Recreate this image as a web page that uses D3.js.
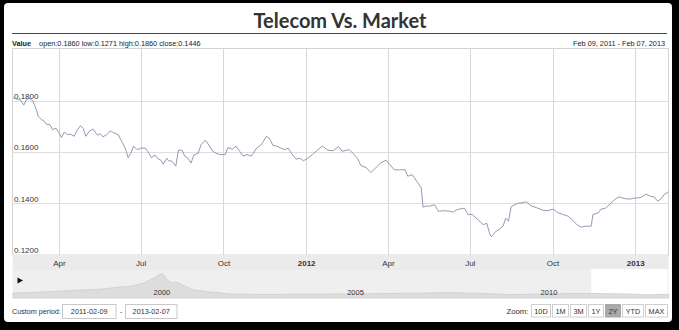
<!DOCTYPE html>
<html>
<head>
<meta charset="utf-8">
<script src="https://cdn.jsdelivr.net/npm/d3@7"></script>
<style>
  html, body { margin: 0; padding: 0; background: #000; }
  svg { display: block; }
</style>
</head>
<body>
<svg id="chart" width="679" height="330"></svg>
<script>
// ---- data -------------------------------------------------------------
const titleText = "Telecom Vs. Market";

const dates = [
  "2011-02-09","2011-02-12","2011-02-17","2011-02-21","2011-02-24","2011-02-27","2011-03-03",
  "2011-03-07","2011-03-09","2011-03-13","2011-03-15","2011-03-18","2011-03-22","2011-03-25","2011-03-29",
  "2011-04-01","2011-04-04","2011-04-07","2011-04-11","2011-04-14","2011-04-18","2011-04-21","2011-04-25",
  "2011-04-28","2011-05-01","2011-05-05","2011-05-09","2011-05-14","2011-05-17","2011-05-20","2011-05-24",
  "2011-05-28","2011-06-01","2011-06-06","2011-06-10","2011-06-13","2011-06-15","2011-06-17","2011-06-20",
  "2011-06-23","2011-06-27","2011-07-01","2011-07-06","2011-07-09","2011-07-13","2011-07-17","2011-07-20",
  "2011-07-23","2011-07-26","2011-07-30","2011-08-01","2011-08-05","2011-08-09","2011-08-12","2011-08-16",
  "2011-08-19","2011-08-22","2011-08-26","2011-08-29","2011-09-03","2011-09-06","2011-09-11","2011-09-15",
  "2011-09-19","2011-09-24","2011-09-28","2011-10-03","2011-10-06","2011-10-11","2011-10-15","2011-10-19",
  "2011-10-23","2011-10-27","2011-11-01","2011-11-07","2011-11-12","2011-11-18","2011-11-22","2011-11-25",
  "2011-11-29","2011-12-04","2011-12-08","2011-12-12","2011-12-16","2011-12-21","2011-12-25","2011-12-29",
  "2012-01-03","2012-01-08","2012-01-14","2012-01-19","2012-01-25","2012-01-31","2012-02-06","2012-02-10",
  "2012-02-15","2012-02-18","2012-02-22","2012-02-27","2012-03-02","2012-03-08","2012-03-13","2012-03-19",
  "2012-03-24","2012-03-30","2012-04-03","2012-04-08","2012-04-14","2012-04-20","2012-04-23","2012-04-28",
  "2012-05-04","2012-05-08","2012-05-10","2012-05-14","2012-05-18","2012-05-23","2012-05-27","2012-06-02",
  "2012-06-09","2012-06-12","2012-06-17","2012-06-22","2012-06-25","2012-06-29","2012-07-04","2012-07-10",
  "2012-07-16","2012-07-20","2012-07-23","2012-07-25","2012-07-30","2012-08-03","2012-08-07","2012-08-10",
  "2012-08-13","2012-08-16","2012-08-20","2012-08-24","2012-08-29","2012-09-02","2012-09-07","2012-09-13",
  "2012-09-20","2012-09-25","2012-10-02","2012-10-07","2012-10-13","2012-10-18","2012-10-23","2012-10-28",
  "2012-11-02","2012-11-07","2012-11-13","2012-11-15","2012-11-21","2012-11-24","2012-11-29","2012-12-05",
  "2012-12-09","2012-12-14","2012-12-20","2012-12-26","2012-12-31","2013-01-07","2013-01-13","2013-01-18",
  "2013-01-22","2013-01-26","2013-01-30","2013-02-02","2013-02-07"
];

const values = [
  0.1811,0.1807,0.1803,0.1782,0.1803,0.1809,0.1799,
  0.1764,0.1739,0.1725,0.1722,0.1708,0.1706,0.1687,0.1692,
  0.1675,0.1656,0.1677,0.1667,0.1669,0.1661,0.1683,0.1702,
  0.1692,0.1661,0.1681,0.1689,0.1665,0.1671,0.1659,0.1667,
  0.1681,0.1675,0.1667,0.1640,0.1621,0.1603,0.1578,0.1595,
  0.1623,0.1609,0.1615,0.1615,0.1601,0.1578,0.1588,0.1574,
  0.1570,0.1553,0.1576,0.1566,0.1564,0.1545,0.1607,0.1607,
  0.1584,0.1578,0.1557,0.1588,0.1595,0.1628,0.1646,0.1626,
  0.1603,0.1593,0.1590,0.1590,0.1617,0.1611,0.1623,0.1603,
  0.1584,0.1590,0.1584,0.1615,0.1628,0.1661,0.1648,0.1626,
  0.1623,0.1615,0.1609,0.1615,0.1593,0.1572,0.1576,0.1566,
  0.1576,0.1590,0.1609,0.1623,0.1607,0.1605,0.1621,0.1603,
  0.1607,0.1609,0.1595,0.1576,0.1547,0.1539,0.1520,0.1541,
  0.1558,0.1568,0.1551,0.1531,0.1531,0.1531,0.1506,0.1512,
  0.1481,0.1461,0.1386,0.1390,0.1390,0.1395,0.1370,0.1372,
  0.1370,0.1366,0.1376,0.1380,0.1382,0.1358,0.1357,0.1337,
  0.1318,0.1323,0.1283,0.1271,0.1292,0.1300,0.1312,0.1343,
  0.1331,0.1388,0.1395,0.1401,0.1403,0.1407,0.1391,0.1384,
  0.1374,0.1372,0.1378,0.1364,0.1357,0.1351,0.1337,0.1318,
  0.1308,0.1312,0.1312,0.1357,0.1364,0.1378,0.1382,0.1401,
  0.1415,0.1426,0.1419,0.1417,0.1421,0.1423,0.1436,0.1428,
  0.1426,0.1409,0.1419,0.1434,0.1446
];

// period summary shown in the header
const periodOpen = 0.1860;
const periodLow = 0.1271;
const periodHigh = 0.1860;
const periodClose = 0.1446;

// long-range history shown in the scrollbar
const navDates = [
  "1996-03-01","1997-02-15","1998-01-01","1998-06-01","1998-11-10","1999-04-08","1999-07-12","1999-10-15",
  "2000-01-07","2000-02-25","2000-04-12","2000-05-12","2000-07-15","2000-10-26","2001-03-10","2001-11-10",
  "2002-09-28","2003-08-07","2004-06-14","2005-07-01","2006-07-01","2007-07-01","2008-04-15","2009-01-15",
  "2010-01-01","2011-02-09","2012-01-01","2012-07-25","2013-02-07"
];
const navValues = [
  0.19,0.25,0.32,0.35,0.42,0.48,0.58,0.78,
  0.98,0.71,0.58,0.65,0.52,0.32,0.25,0.15,
  0.14,0.15,0.16,0.17,0.19,0.21,0.18,0.13,
  0.17,0.18,0.16,0.13,0.145
];

const yTicks = [0.12, 0.14, 0.16, 0.18];
const zoomButtons = ["10D", "1M", "3M", "1Y", "2Y", "YTD", "MAX"];
const activeZoom = "2Y";

// ---- setup ------------------------------------------------------------
const FONT = "'Liberation Sans', Arial, sans-serif";
const svg = d3.select("#chart");
const parse = d3.timeParse("%Y-%m-%d");
const series = dates.map((d, i) => ({ date: parse(d), value: values[i] }));
const navSeries = navDates.map((d, i) => ({ date: parse(d), value: navValues[i] }));

const P = { left: 12.5, right: 668.5, top: 48.5, bottom: 255 };

const x = d3.scaleTime()
  .domain(d3.extent(series, d => d.date))
  .range([13, 668.5]);
const y = d3.scaleLinear().domain([0.12, 0.20]).range([255, 49]);

// white panel
svg.append("rect")
  .attr("x", 4).attr("y", 3).attr("width", 668).attr("height", 319)
  .attr("rx", 4).attr("fill", "#fff");

// title
svg.append("text")
  .attr("x", 340).attr("y", 28)
  .attr("text-anchor", "middle")
  .attr("font-family", "Lato, sans-serif")
  .attr("font-weight", 700)
  .attr("font-size", 20)
  .attr("fill", "#333")
  .text(titleText);

svg.append("line")
  .attr("x1", 12).attr("x2", 667).attr("y1", 33.5).attr("y2", 33.5)
  .attr("stroke", "#444").attr("stroke-width", 1);

// value summary
const fmt4 = d3.format(".4f");
const info = svg.append("text")
  .attr("x", 12).attr("y", 45.5)
  .attr("font-family", FONT).attr("font-size", 7.3).attr("fill", "#222");
info.append("tspan").attr("font-weight", 700).text("Value");
info.append("tspan").attr("dx", 8)
  .text(`open:${fmt4(periodOpen)} low:${fmt4(periodLow)} high:${fmt4(periodHigh)} close:${fmt4(periodClose)}`);

const fmtRange = d3.timeFormat("%b %d, %Y");
svg.append("text")
  .attr("x", 665).attr("y", 45.5).attr("text-anchor", "end")
  .attr("font-family", FONT).attr("font-size", 7.3).attr("fill", "#222")
  .text(`${fmtRange(series[0].date)} - ${fmtRange(series[series.length - 1].date)}`);

// plot frame
svg.append("rect")
  .attr("x", P.left).attr("y", P.top)
  .attr("width", P.right - P.left).attr("height", P.bottom - P.top)
  .attr("fill", "#fff").attr("stroke", "#d4d4d4");

// grid
const xTicks = x.ticks(d3.timeMonth.every(3));
svg.append("g").selectAll("line").data(yTicks.filter(t => t > 0.12)).join("line")
  .attr("x1", P.left).attr("x2", P.right)
  .attr("y1", d => Math.round(y(d)) + 0.5).attr("y2", d => Math.round(y(d)) + 0.5)
  .attr("stroke", "#dedede");
svg.append("g").selectAll("line").data(xTicks).join("line")
  .attr("x1", d => Math.round(x(d)) + 0.5).attr("x2", d => Math.round(x(d)) + 0.5)
  .attr("y1", P.top).attr("y2", P.bottom)
  .attr("stroke", "#d8d8d8");

// y labels inside the plot
svg.append("g").selectAll("text").data(yTicks).join("text")
  .attr("x", 14).attr("y", d => y(d) - 2)
  .attr("font-family", FONT).attr("font-size", 8).attr("fill", "#333")
  .text(d => fmt4(d));

// price line
svg.append("clipPath").attr("id", "plotClip")
  .append("rect").attr("x", P.left).attr("y", P.top)
  .attr("width", P.right - P.left).attr("height", P.bottom - P.top);
svg.append("path")
  .datum(series)
  .attr("clip-path", "url(#plotClip)")
  .attr("fill", "none")
  .attr("stroke", "#8590a8")
  .attr("stroke-width", 0.9)
  .attr("stroke-linejoin", "round")
  .attr("d", d3.line().x(d => x(d.date)).y(d => y(d.value)));

// category axis band
svg.append("rect")
  .attr("x", P.left).attr("y", 255)
  .attr("width", P.right - P.left).attr("height", 15)
  .attr("fill", "#ebebeb");
const monthFmt = d3.timeFormat("%b");
const xAxis = svg.append("g")
  .attr("transform", "translate(0,255)")
  .call(d3.axisBottom(x).tickValues(xTicks).tickSize(0).tickPadding(5)
    .tickFormat(d => d.getMonth() === 0 ? d.getFullYear() : monthFmt(d)));
xAxis.select(".domain").remove();
xAxis.selectAll("text")
  .attr("font-family", FONT).attr("font-size", 8).attr("fill", "#333")
  .attr("font-weight", d => d.getMonth() === 0 ? 700 : 400);

// scrollbar / navigator
const NAV = { top: 270, bottom: 298 };
const navX = d3.scaleTime()
  .domain([parse("1996-03-01"), parse("2013-02-07")])
  .range([13, 668.5]);
const navY = d3.scaleLinear().domain([0, 1.05]).range([NAV.bottom, 271.5]);

svg.append("rect")
  .attr("x", P.left).attr("y", NAV.top)
  .attr("width", P.right - P.left).attr("height", NAV.bottom - NAV.top)
  .attr("fill", "#efefef");
svg.append("rect")
  .attr("x", navX(series[0].date)).attr("y", NAV.top - 1)
  .attr("width", navX(series[series.length - 1].date) - navX(series[0].date) - 1)
  .attr("height", NAV.bottom - NAV.top + 1)
  .attr("fill", "#fff");
svg.append("path")
  .datum(navSeries)
  .attr("fill", "#d9d9d9").attr("fill-opacity", 0.85)
  .attr("stroke", "#cdcdcd").attr("stroke-width", 0.8)
  .attr("d", d3.area().x(d => navX(d.date)).y0(NAV.bottom).y1(d => navY(d.value)));

const navAxis = svg.append("g")
  .attr("transform", "translate(0,289)")
  .call(d3.axisBottom(navX).ticks(d3.timeYear.every(5)).tickSize(0).tickPadding(1)
    .tickFormat(d3.timeFormat("%Y")));
navAxis.select(".domain").remove();
navAxis.selectAll("text")
  .attr("font-family", FONT).attr("font-size", 7.5).attr("fill", "#333");

svg.append("path")
  .attr("d", "M17.5,277.5 L23,280.5 L17.5,283.5 Z")
  .attr("fill", "#111");

// custom period inputs
const fmtISO = d3.timeFormat("%Y-%m-%d");
svg.append("text")
  .attr("x", 12).attr("y", 313.5)
  .attr("font-family", FONT).attr("font-size", 7.2).attr("fill", "#333")
  .text("Custom period:");
const inputs = [
  { x: 62.5, w: 53.5, label: fmtISO(series[0].date) },
  { x: 125.5, w: 51.5, label: fmtISO(series[series.length - 1].date) }
];
inputs.forEach(b => {
  svg.append("rect")
    .attr("x", b.x).attr("y", 304.5).attr("width", b.w).attr("height", 14)
    .attr("fill", "#fff").attr("stroke", "#c8c8c8");
  svg.append("text")
    .attr("x", b.x + b.w / 2).attr("y", 314)
    .attr("text-anchor", "middle")
    .attr("font-family", FONT).attr("font-size", 7.3).attr("fill", "#333")
    .text(b.label);
});
svg.append("text")
  .attr("x", 121).attr("y", 313.5).attr("text-anchor", "middle")
  .attr("font-family", FONT).attr("font-size", 8).attr("fill", "#666")
  .text("-");

// zoom buttons, laid out right to left
let right = 667.5;
const zg = svg.append("g");
zoomButtons.slice().reverse().forEach(lbl => {
  const t = zg.append("text")
    .attr("y", 313.5).attr("text-anchor", "middle")
    .attr("font-family", FONT).attr("font-size", 7.3)
    .attr("fill", "#333")
    .text(lbl);
  const w = Math.round(t.node().getComputedTextLength() + 6);
  zg.insert("rect", "text")
    .attr("x", right - w).attr("y", 304.5).attr("width", w).attr("height", 12.5)
    .attr("fill", lbl === activeZoom ? "#a9a9a9" : "#fff")
    .attr("stroke", lbl === activeZoom ? "#a9a9a9" : "#cfcfcf");
  t.attr("x", right - w / 2);
  right -= w + 2;
});
svg.append("text")
  .attr("x", right - 1).attr("y", 313.5).attr("text-anchor", "end")
  .attr("font-family", FONT).attr("font-size", 7.8).attr("fill", "#333")
  .text("Zoom:");
</script>
</body>
</html>
